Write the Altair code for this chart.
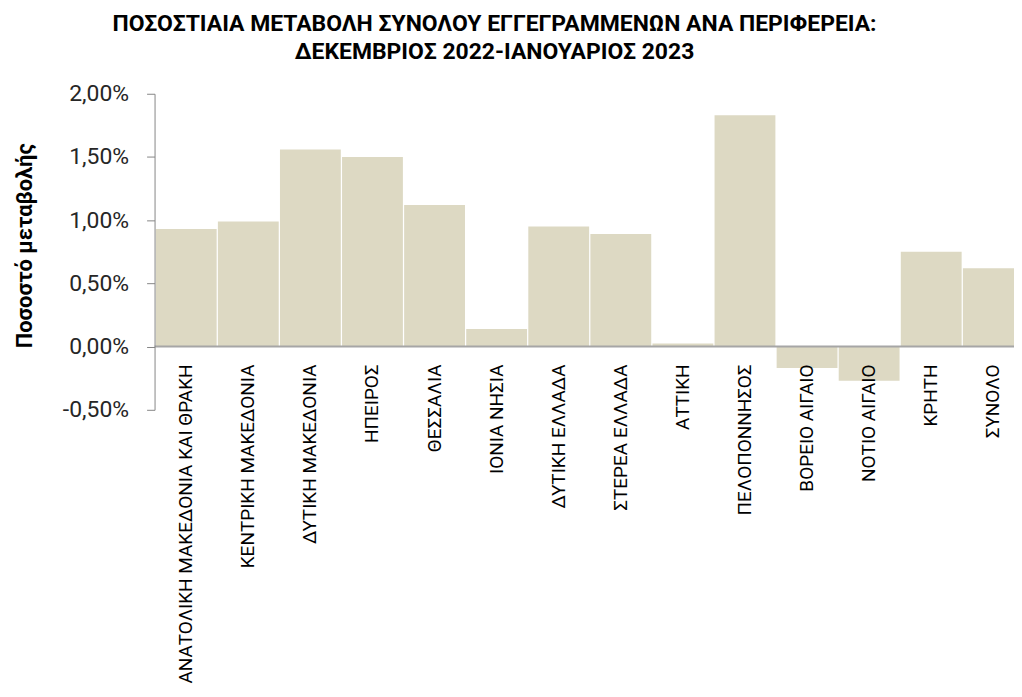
import altair as alt
import pandas as pd

regions = [
    "ΑΝΑΤΟΛΙΚΗ ΜΑΚΕΔΟΝΙΑ ΚΑΙ ΘΡΑΚΗ", "ΚΕΝΤΡΙΚΗ ΜΑΚΕΔΟΝΙΑ", "ΔΥΤΙΚΗ ΜΑΚΕΔΟΝΙΑ",
    "ΗΠΕΙΡΟΣ", "ΘΕΣΣΑΛΙΑ", "ΙΟΝΙΑ ΝΗΣΙΑ", "ΔΥΤΙΚΗ ΕΛΛΑΔΑ", "ΣΤΕΡΕΑ ΕΛΛΑΔΑ",
    "ΑΤΤΙΚΗ", "ΠΕΛΟΠΟΝΝΗΣΟΣ", "ΒΟΡΕΙΟ ΑΙΓΑΙΟ", "ΝΟΤΙΟ ΑΙΓΑΙΟ", "ΚΡΗΤΗ", "ΣΥΝΟΛΟ",
]
changes = [0.93, 0.99, 1.56, 1.50, 1.12, 0.14, 0.95, 0.89, 0.025, 1.83, -0.17, -0.27, 0.75, 0.62]
y_ticks = [-0.5, 0.0, 0.5, 1.0, 1.5, 2.0]
title_lines = [
    "ΠΟΣΟΣΤΙΑΙΑ ΜΕΤΑΒΟΛΗ  ΣΥΝΟΛΟΥ ΕΓΓΕΓΡΑΜΜΕΝΩΝ ΑΝΑ ΠΕΡΙΦΕΡΕΙΑ:",
    "ΔΕΚΕΜΒΡΙΟΣ 2022-ΙΑΝΟΥΑΡΙΟΣ 2023",
]
y_title = "Ποσοστό μεταβολής"

df = pd.DataFrame({"region": regions, "change": changes})
zero_df = pd.DataFrame({"zero": [0.0]})

W, H = 862, 317
FONT = "Roboto"

y_scale = alt.Scale(domain=[-0.5, 2.0], nice=False)

bars = alt.Chart(df).mark_bar(color="#DDD9C3", clip=True).encode(
    x=alt.X(
        "region:N",
        sort=regions,
        scale=alt.Scale(range=[0, 873], paddingInner=0.02, paddingOuter=0.02),
        axis=alt.Axis(
            title=None, labelAngle=-90, domain=False, ticks=False, tickSize=0,
            labelPadding=17, offset=-63, labelFont=FONT, labelFontSize=19,
            labelColor="#000000", labelLimit=0, zindex=2,
        ),
    ),
    y=alt.Y(
        "change:Q",
        scale=y_scale,
        axis=alt.Axis(
            values=y_ticks,
            labelExpr="replace(replace(format(datum.value, '.2f'), '.', ','), '\u2212', '-') + '%'",
            grid=False, domainColor="#868686", tickColor="#868686", tickSize=8,
            labelPadding=18, labelFont=FONT, labelFontSize=23, labelColor="#262626",
            title=y_title, titleFont=FONT, titleFontSize=22, titleFontWeight="bold",
            titleColor="#000000", titleAngle=270, titleX=-130, titleY=152,
            titleAlign="center", titleBaseline="middle", zindex=2,
        ),
    ),
)

zero = alt.Chart(zero_df).mark_rule(color="#A6A6A6", strokeWidth=2).encode(
    y=alt.Y("zero:Q", scale=y_scale)
)

chart = alt.layer(bars, zero).properties(
    width=W,
    height=H,
    autosize=alt.AutoSizeParams(type="none"),
    padding={"left": 147, "top": 85, "right": 0, "bottom": 274},
    title=alt.TitleParams(
        text=title_lines, font=FONT, fontSize=23, fontWeight="bold",
        color="#000000", lineHeight=28, anchor="middle", dx=-90, offset=19,
    ),
).configure_view(stroke=None)

chart.save("out.html", embed_options={"renderer": "svg", "actions": False})
